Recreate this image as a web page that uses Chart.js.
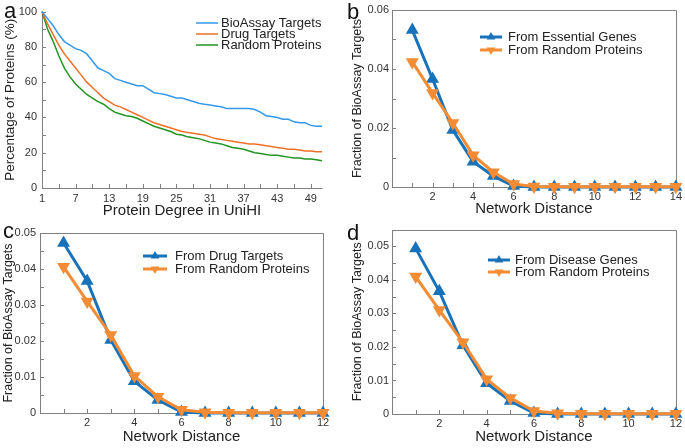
<!DOCTYPE html>
<html>
<head>
<meta charset="utf-8">
<script src="https://cdn.jsdelivr.net/npm/chart.js@4.4.0/dist/chart.umd.min.js"></script>
<style>
body { margin: 0; background: #fff; width: 685px; height: 448px; overflow: hidden; position: relative; font-family: 'Liberation Sans', Arial, sans-serif; }
.panel { position: absolute; }
.letter { position: absolute; font-size: 22px; line-height: 1; color: #111; }
</style>
</head>
<body>
<div class="panel" style="left:0;top:0;width:340px;height:220px"><canvas id="chartA"></canvas></div>
<div class="panel" style="left:345px;top:0;width:340px;height:220px"><canvas id="chartB"></canvas></div>
<div class="panel" style="left:0;top:220px;width:345px;height:228px"><canvas id="chartC"></canvas></div>
<div class="panel" style="left:345px;top:220px;width:340px;height:228px"><canvas id="chartD"></canvas></div>
<div class="letter" style="left:4px;top:0px">a</div>
<div class="letter" style="left:347px;top:1px">b</div>
<div class="letter" style="left:3px;top:220px">c</div>
<div class="letter" style="left:347px;top:222px">d</div>
<script>
// panel a: cumulative percentage by protein degree (degree 1..51)
var degreeLabels = [1, 7, 13, 19, 25, 31, 37, 43, 49];
var bioassayPct = [100, 96, 92, 87, 83, 81, 79, 78, 76, 72, 68, 66.5, 65, 62, 61, 60, 59, 58, 58, 56,
    54, 53.5, 53, 52, 51, 51, 50, 49, 48, 47.5, 47, 46.5, 46, 45, 45, 45, 45, 45, 44.5, 43,
    41, 40.5, 40, 39, 39, 37.5, 37, 37, 35.5, 35, 35];
var drugPct = [100, 93, 87, 81, 76, 72, 68, 64, 60, 57, 54, 51, 49, 47, 46, 44.5, 43, 41.5, 40, 38.5,
    37, 36, 35, 34, 33, 32, 31.5, 31, 30.5, 30, 29, 28, 27.5, 27, 26.5, 26, 25.5, 25, 25, 24.5,
    24, 23.5, 23, 22.5, 22, 22, 21.5, 21, 21, 20.5, 20.5];
var randomPct = [100, 90, 83, 75, 68, 63, 59, 56, 53, 51, 49, 47.5, 45, 43, 42, 41, 40.5, 39.5, 38, 36.5,
    35, 34, 33, 32, 30.5, 30, 29, 28.5, 28, 27, 26, 25.5, 25, 24, 23, 22.5, 22, 21, 20, 19.5,
    19, 18.5, 18.5, 18, 17.5, 17, 17, 16.5, 16.5, 16, 15.5];

// panels b, c, d: fraction of bioassay targets by network distance
var distB = [1, 2, 3, 4, 5, 6, 7, 8, 9, 10, 11, 12, 13, 14];
var essentialB = [0.0532, 0.0366, 0.0193, 0.0086, 0.0037, 0.0003, 0, 0, 0, 0, 0, 0, 0, 0];
var randomB = [0.0424, 0.0319, 0.0217, 0.0108, 0.0050, 0.0010, 0.0002, 0.0001, 0.0001, 0.0001, 0.0001, 0.0001, 0.0001, 0.0001];

var distCD = [1, 2, 3, 4, 5, 6, 7, 8, 9, 10, 11, 12];
var drugC = [0.0472, 0.0367, 0.0203, 0.0088, 0.0036, 0.0003, 0, 0, 0, 0, 0, 0];
var randomC = [0.0406, 0.0310, 0.0217, 0.0103, 0.0045, 0.0009, 0.0002, 0.0001, 0.0001, 0.0001, 0.0001, 0.0001];
var diseaseD = [0.0494, 0.0366, 0.0205, 0.0092, 0.0039, 0.0003, 0, 0, 0, 0, 0, 0];
var randomD = [0.0410, 0.0310, 0.0214, 0.0104, 0.0048, 0.0009, 0.0002, 0.0001, 0.0001, 0.0001, 0.0001, 0.0001];

var FONT = "'Liberation Sans', Arial, sans-serif";
var AXIS = '#808080';
var BLUE = 'rgb(24,114,186)';
var ORANGE = 'rgb(243,140,52)';

Chart.defaults.font.family = FONT;
Chart.defaults.color = '#222';

function toPoints(xs, ys) {
    return xs.map(function (x, i) { return { x: x, y: ys[i] }; });
}

// axis lines, optional box and inward tick marks
var frame = {
    id: 'frame',
    beforeDatasetsDraw: function (chart, args, opts) {
        var ctx = chart.ctx, a = chart.chartArea, sx = chart.scales.x, sy = chart.scales.y;
        ctx.save();
        ctx.strokeStyle = AXIS;
        ctx.lineWidth = 1;
        ctx.beginPath();
        sx.ticks.forEach(function (t) {
            var px = Math.round(sx.getPixelForValue(t.value)) + 0.5;
            ctx.moveTo(px, a.bottom); ctx.lineTo(px, a.bottom - 4);
        });
        sy.ticks.forEach(function (t) {
            var py = Math.round(sy.getPixelForValue(t.value)) + 0.5;
            ctx.moveTo(a.left, py); ctx.lineTo(a.left + 4, py);
        });
        var l = Math.round(a.left) + 0.5, b = Math.round(a.bottom) + 0.5;
        var r = Math.round(a.right) + 0.5, t = Math.round(a.top) + 0.5;
        ctx.moveTo(l, t); ctx.lineTo(l, b); ctx.lineTo(r, b);
        if (opts.box) { ctx.lineTo(r, t); ctx.lineTo(l, t); }
        ctx.stroke();
        ctx.restore();
    }
};

function triangle(ctx, x, y, r, down) {
    var d = down ? -1 : 1;
    ctx.beginPath();
    ctx.moveTo(x, y - d * r);
    ctx.lineTo(x + r * 0.87, y + d * r * 0.5);
    ctx.lineTo(x - r * 0.87, y + d * r * 0.5);
    ctx.closePath();
    ctx.fill();
}

var insideLegend = {
    id: 'insideLegend',
    afterDraw: function (chart, args, opts) {
        var ctx = chart.ctx;
        ctx.save();
        ctx.font = '13px ' + FONT;
        ctx.textBaseline = 'middle';
        chart.data.datasets.forEach(function (ds, i) {
            var y = opts.y + i * opts.rowH;
            ctx.strokeStyle = ds.borderColor;
            ctx.lineWidth = ds.borderWidth;
            ctx.beginPath();
            ctx.moveTo(opts.x, y);
            ctx.lineTo(opts.x + opts.len, y);
            ctx.stroke();
            if (ds.pointRadius) {
                ctx.fillStyle = ds.borderColor;
                triangle(ctx, opts.x + opts.len / 2, y, ds.pointRadius + 0.5, ds.pointRotation === 180);
            }
            ctx.fillStyle = '#222';
            ctx.fillText(ds.label, opts.x + opts.len + opts.gap, y);
        });
        ctx.restore();
    }
};

function lineSet(label, data, color, width, marker, down, order) {
    return {
        label: label,
        data: data,
        borderColor: color,
        backgroundColor: color,
        pointBackgroundColor: color,
        pointBorderColor: color,
        borderWidth: width,
        pointStyle: 'triangle',
        pointRadius: marker ? 4.5 : 0,
        pointRotation: down ? 180 : 0,
        tension: 0,
        clip: false,
        order: order
    };
}

function makeChart(id, o) {
    return new Chart(document.getElementById(id), {
        type: 'line',
        data: { datasets: o.datasets },
        options: {
            responsive: true,
            maintainAspectRatio: false,
            animation: false,
            events: [],
            layout: { padding: { top: o.pad[0], right: o.pad[1], bottom: 0, left: 0 } },
            scales: {
                x: {
                    type: 'linear',
                    min: o.xMin, max: o.xMax,
                    grid: { display: false, drawTicks: false },
                    border: { display: false },
                    afterFit: function (s) { s.height = o.xH; },
                    afterBuildTicks: o.xTicks,
                    ticks: { stepSize: 1, autoSkip: false, maxRotation: 0, padding: o.xPad, font: { size: 11 }, color: '#333', callback: o.xLabel },
                    title: { display: true, text: o.xTitle, font: { size: 15 }, padding: { top: 0, bottom: o.xTitlePad } }
                },
                y: {
                    min: 0, max: o.yMax,
                    grid: { display: false, drawTicks: false },
                    border: { display: false },
                    afterFit: function (s) { s.width = o.yW; },
                    ticks: { stepSize: o.yStep, autoSkip: false, padding: o.yPad, font: { size: 11 }, color: '#333', callback: o.yLabel },
                    title: { display: true, text: o.yTitle, font: { size: o.yTitleSize }, padding: { top: o.yTitlePad, bottom: 0 } }
                }
            },
            plugins: {
                legend: { display: false },
                tooltip: { enabled: false },
                frame: { box: o.box },
                insideLegend: o.legend
            }
        },
        plugins: [frame, insideLegend]
    });
}

function evenLabel(v) { return (v % 2 === 0 && v > 0) ? String(v) : ''; }
function hundredthLabel(v) {
    var k = Math.round(v * 100);
    if (k % 2 !== 0) return '';
    return k === 0 ? '0' : (k / 100).toFixed(2);
}
function thousandthLabel(v) {
    var k = Math.round(v * 1000);
    if (k % 10 !== 0) return '';
    return k === 0 ? '0' : (k / 1000).toFixed(2);
}

var degrees = bioassayPct.map(function (v, i) { return i + 1; });

makeChart('chartA', {
    datasets: [
        lineSet('BioAssay Targets', toPoints(degrees, bioassayPct), 'rgb(51,153,240)', 1.5, false, false, 0),
        lineSet('Drug Targets', toPoints(degrees, drugPct), 'rgb(238,112,40)', 1.5, false, false, 1),
        lineSet('Random Proteins', toPoints(degrees, randomPct), 'rgb(34,148,34)', 1.5, false, false, 2)
    ],
    pad: [10, 18], xH: 32, yW: 42,
    xMin: 1, xMax: 51, yMax: 100, yStep: 10,
    xTicks: function (s) {
        var t = [];
        for (var v = 1; v <= 49; v += 3) t.push({ value: v });
        s.ticks = t;
    },
    xLabel: function (v) { return degreeLabels.indexOf(v) >= 0 ? String(v) : ''; },
    yLabel: function (v) { return v % 20 === 0 ? String(v) : ''; },
    xPad: 4, yPad: 5, xTitlePad: 0, yTitlePad: 2, yTitleSize: 13.5,
    xTitle: 'Protein Degree in UniHI', yTitle: 'Percentage of Proteins (%)',
    box: false,
    legend: { x: 196, y: 23, rowH: 11, len: 22, gap: 3 }
});

makeChart('chartB', {
    datasets: [
        lineSet('From Essential Genes', toPoints(distB, essentialB), BLUE, 3, true, false, 1),
        lineSet('From Random Proteins', toPoints(distB, randomB), ORANGE, 3, true, true, 0)
    ],
    pad: [10, 8], xH: 33, yW: 47,
    xMin: 0, xMax: 14, yMax: 0.06, yStep: 0.01,
    xLabel: evenLabel, yLabel: hundredthLabel,
    xPad: 3, yPad: 3, xTitlePad: 2, yTitlePad: 5, yTitleSize: 12.5,
    xTitle: 'Network Distance', yTitle: 'Fraction of BioAssay Targets',
    box: true,
    legend: { x: 135, y: 37, rowH: 13, len: 22, gap: 6 }
});

makeChart('chartC', {
    datasets: [
        lineSet('From Drug Targets', toPoints(distCD, drugC), BLUE, 3, true, false, 1),
        lineSet('From Random Proteins', toPoints(distCD, randomC), ORANGE, 3, true, true, 0)
    ],
    pad: [13, 22], xH: 35, yW: 40,
    xMin: 0, xMax: 12, yMax: 0.05, yStep: 0.005,
    xLabel: evenLabel, yLabel: thousandthLabel,
    xPad: 3, yPad: 4, xTitlePad: 2, yTitlePad: 1, yTitleSize: 12.5,
    xTitle: 'Network Distance', yTitle: 'Fraction of BioAssay Targets',
    box: true,
    legend: { x: 143, y: 36, rowH: 13, len: 24, gap: 8 }
});

makeChart('chartD', {
    datasets: [
        lineSet('From Disease Genes', toPoints(distCD, diseaseD), BLUE, 3, true, false, 1),
        lineSet('From Random Proteins', toPoints(distCD, randomD), ORANGE, 3, true, true, 0)
    ],
    pad: [8, 9], xH: 34, yW: 47,
    xMin: 0, xMax: 12, yMax: 0.055, yStep: 0.005,
    xLabel: evenLabel, yLabel: thousandthLabel,
    xPad: 3, yPad: 3, xTitlePad: 2, yTitlePad: 5, yTitleSize: 12.5,
    xTitle: 'Network Distance', yTitle: 'Fraction of BioAssay Targets',
    box: true,
    legend: { x: 143, y: 40, rowH: 12, len: 22, gap: 5 }
});
</script>
</body>
</html>
